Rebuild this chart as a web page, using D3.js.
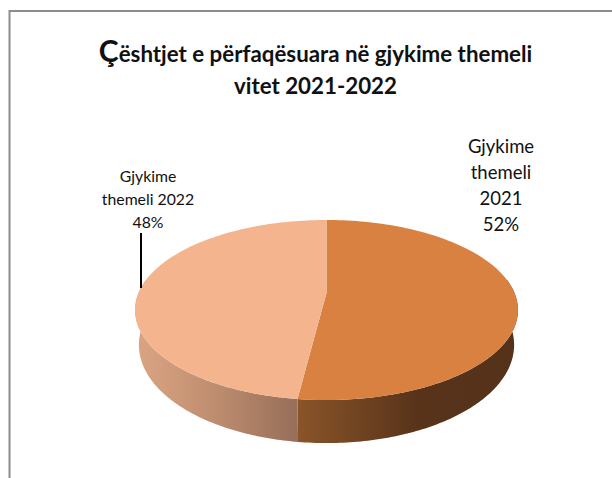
<!DOCTYPE html>
<html>
<head>
<meta charset="utf-8">
<script src="https://cdn.jsdelivr.net/npm/d3@7"></script>
<style>
  html, body { margin: 0; padding: 0; background: #fff; }
  svg { display: block; }
  text { font-family: Lato, "Open Sans", sans-serif; fill: #111; }
</style>
</head>
<body>
<div id="chart"></div>
<script>
// Data
var categories = ["Gjykime themeli 2021", "Gjykime themeli 2022"];
var values = [52, 48];
var topColors = ["#d98140", "#f4b48e"];
var titleLines = ["ështjet e përfaqësuara në gjykime themeli", "vitet 2021-2022"];
var labelLines = [["Gjykime", "themeli", "2021", "52%"], ["Gjykime", "themeli 2022", "48%"]];

var width = 612, height = 478;

var svg = d3.select("#chart").append("svg")
    .attr("width", width)
    .attr("height", height);

// Chart frame, cut off on the right and at the bottom
svg.append("path")
    .attr("d", "M9.5,478V11H612")
    .attr("fill", "none")
    .attr("stroke", "#8c8c8c")
    .attr("stroke-width", 2);

// Pie angles, clockwise from the top
var arcs = d3.pie().sort(null)(values);

// Perspective view of the pie disc
var cx = 326.5, cy = 293, k = 0.189, scaleU = 188, scaleV = 86.8;
var bottomU = 0.98, bottomV = 1.09, depth = 33.4;

function rim(angle, su, sv, dy) {
  var u = Math.sin(angle), v = Math.cos(angle), w = 1 + k * v;
  return [cx + su * scaleU * u / w, cy + dy - sv * scaleV * v / w];
}

function rimPoints(a0, a1, su, sv, dy) {
  return d3.range(0, 121).map(function(i) {
    return rim(a0 + (a1 - a0) * i / 120, su, sv, dy);
  });
}

var line = d3.line();
var defs = svg.append("defs");

// Side wall gradients
var wallStops = [
  [[0, "#8a5529"], [0.55, "#58331a"], [1, "#55321a"]],
  [[0, "#976f5a"], [0.5, "#be8d6f"], [1, "#dba583"]]
];
var wallRanges = [[296, 518], [296, 135]];

wallStops.forEach(function(stops, i) {
  var g = defs.append("linearGradient")
      .attr("id", "wall" + i)
      .attr("gradientUnits", "userSpaceOnUse")
      .attr("x1", wallRanges[i][0]).attr("x2", wallRanges[i][1])
      .attr("y1", 0).attr("y2", 0);
  stops.forEach(function(s) {
    g.append("stop").attr("offset", s[0]).attr("stop-color", s[1]);
  });
});

// Walls only exist on the near half of the disc
var nearStart = Math.PI * 0.45, nearEnd = Math.PI * 1.55;

svg.selectAll("path.wall")
    .data(arcs)
    .enter().append("path")
    .attr("class", "wall")
    .attr("fill", function(d, i) { return "url(#wall" + i + ")"; })
    .attr("d", function(d) {
      var a0 = Math.max(d.startAngle, nearStart), a1 = Math.min(d.endAngle, nearEnd);
      return line(rimPoints(a0, a1, 1, 1, 0).concat(rimPoints(a1, a0, bottomU, bottomV, depth))) + "Z";
    });

// Top face
svg.selectAll("path.slice")
    .data(arcs)
    .enter().append("path")
    .attr("class", "slice")
    .attr("fill", function(d, i) { return topColors[i]; })
    .attr("d", function(d) {
      return line([[cx, cy]].concat(rimPoints(d.startAngle, d.endAngle, 1, 1, 0))) + "Z";
    });

// Title, with the first letter larger
var title = svg.append("text")
    .attr("text-anchor", "middle")
    .attr("font-weight", 700)
    .attr("font-size", 22.3);
var first = title.append("tspan").attr("x", 315.5).attr("y", 62);
first.append("tspan").attr("font-size", 30).text("Ç");
first.append("tspan").text(titleLines[0]);
title.append("tspan").attr("x", 315.5).attr("y", 94).text(titleLines[1]);

// Data labels
var labelStyle = [
  { x: 501, y: 153, size: 18.5, step: 26 },
  { x: 148, y: 182, size: 15.8, step: 23 }
];

labelLines.forEach(function(lines, i) {
  var st = labelStyle[i];
  svg.append("text")
      .attr("text-anchor", "middle")
      .attr("font-size", st.size)
      .attr("aria-label", categories[i])
      .selectAll("tspan")
      .data(lines)
      .enter().append("tspan")
      .attr("x", st.x)
      .attr("y", function(d, j) { return st.y + j * st.step; })
      .text(function(d) { return d; });
});

// Leader line for the 2022 label
svg.append("path")
    .attr("d", "M141,233V288")
    .attr("stroke", "#000")
    .attr("stroke-width", 2)
    .attr("fill", "none");
</script>
</body>
</html>
